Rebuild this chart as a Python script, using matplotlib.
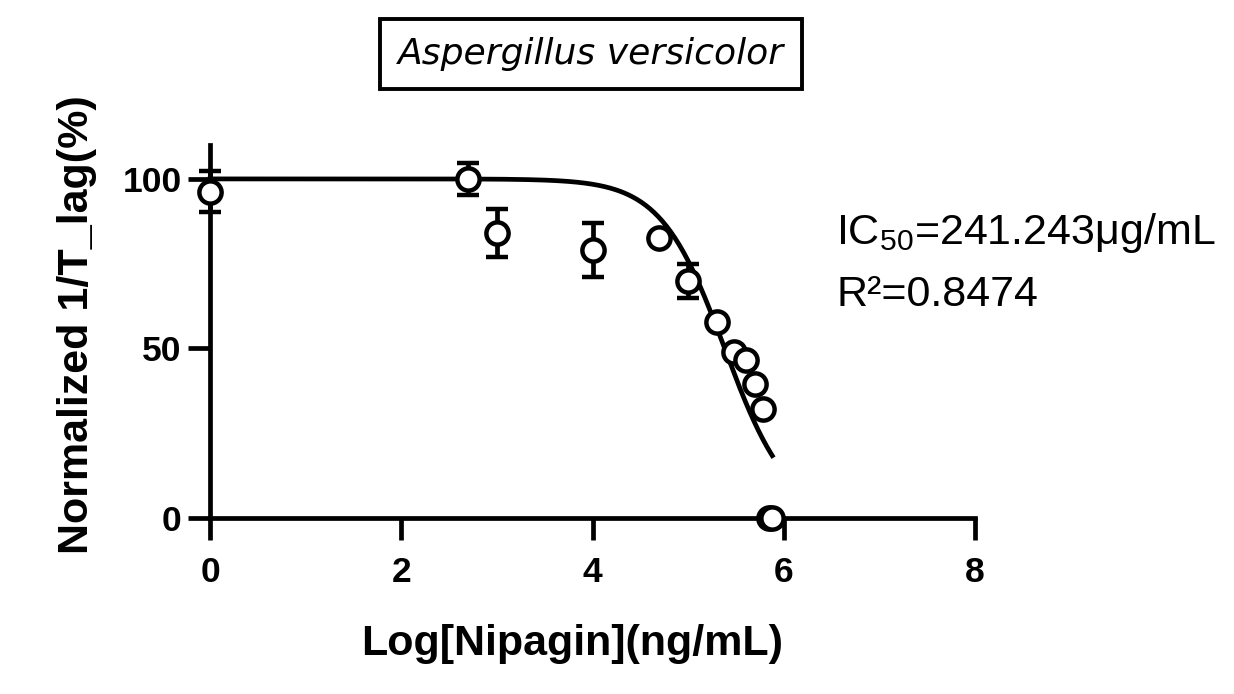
import numpy as np
import matplotlib
matplotlib.use("Agg")
import matplotlib.pyplot as plt

# ---- data ----
log_conc = [0.0, 2.7, 3.0, 4.0, 4.7, 5.0, 5.3, 5.48, 5.6, 5.7, 5.78, 5.85, 5.88]
response = [96.2, 100.0, 84.0, 79.0, 82.5, 70.0, 57.7, 49.0, 46.5, 39.5, 32.0, 0.0, 0.0]
err = [6.0, 4.6, 7.0, 8.0, 0.0, 5.0, 0.0, 0.0, 0.0, 0.0, 0.0, 0.0, 0.0]
log_ic50 = 5.382
hill_slope = 1.3
fit_top = 100.0
fit_bottom = 0.0
fit_xmax = 5.88
xticks = [0, 2, 4, 6, 8]
yticks = [0, 50, 100]
title = "Aspergillus versicolor"
xlabel = "Log[Nipagin](ng/mL)"
ylabel = "Normalized 1/T_lag(%)"
ic50_text = "IC$_{50}$=241.243μg/mL"
r2_text = "R²=0.8474"

plt.rcParams['font.family'] = ['Liberation Sans', 'DejaVu Sans']
plt.rcParams['mathtext.fontset'] = 'custom'
plt.rcParams['mathtext.rm'] = 'Liberation Sans'
plt.rcParams['mathtext.it'] = 'Liberation Sans'

W, H = 1234, 694
fig = plt.figure(figsize=(W / 100, H / 100), dpi=100)
ax = fig.add_axes([210 / W, 1 - 518 / H, (975 - 210) / W, (518 - 145) / H])

LW = 3.4
xf = np.linspace(0, fit_xmax, 400)
yf = fit_bottom + (fit_top - fit_bottom) / (1 + 10 ** ((xf - log_ic50) * hill_slope))
ax.plot(xf, yf, color='black', lw=LW, zorder=3, clip_on=False)

ax.errorbar(log_conc, response, yerr=err, fmt='o', ms=16, mfc='white', mec='black',
            mew=3.2, ecolor='black', elinewidth=LW, capsize=8, capthick=LW,
            zorder=4, clip_on=False)

ax.set_xlim(0, 8)
ax.set_ylim(0, 110)
ax.set_xticks(xticks)
ax.set_yticks(yticks)
for s in ['top', 'right']:
    ax.spines[s].set_visible(False)
for s in ['left', 'bottom']:
    ax.spines[s].set_linewidth(LW)
ax.tick_params(axis='both', width=LW, length=16, labelsize=25.5)
ax.tick_params(axis='x', pad=11)
ax.tick_params(axis='y', pad=4.5)
for lab in ax.get_xticklabels() + ax.get_yticklabels():
    lab.set_fontweight('bold')

ax.set_xlabel(xlabel, fontsize=31, fontweight='bold')
ax.set_ylabel(ylabel, fontsize=31, fontweight='bold')
ax.xaxis.set_label_coords((572 - 210) / 765, -(655 - 518) / 373, transform=ax.transAxes)
ax.xaxis.label.set_va('baseline')
ax.yaxis.set_label_coords(-(210 - 57) / 765, (518 - 325) / 373, transform=ax.transAxes)
ax.yaxis.label.set_va('top')

fig.text(591 / W, 1 - 54 / H, title, fontsize=26, style='italic', family='DejaVu Sans',
         ha='center', va='center',
         bbox=dict(boxstyle='square,pad=0.5', fc='white', ec='black', lw=2.8))

fig.text(836 / W, 1 - 233 / H, ic50_text, fontsize=31, ha='left', va='center')
fig.text(836 / W, 1 - 295 / H, r2_text, fontsize=31, ha='left', va='center')

fig.savefig('out.png', dpi=100)
